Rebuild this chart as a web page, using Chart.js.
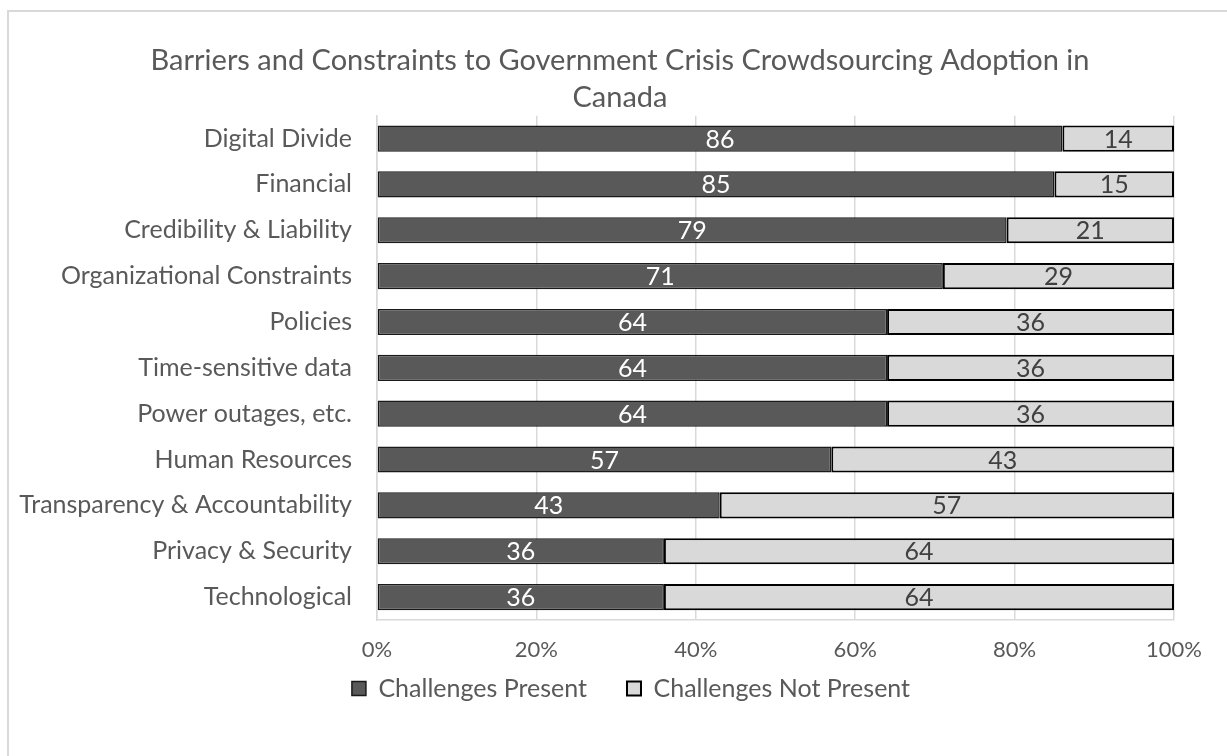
<!DOCTYPE html>
<html>
<head>
<meta charset="utf-8">
<script src="https://cdn.jsdelivr.net/npm/chart.js@4"></script>
<style>
  html, body { margin: 0; padding: 0; background: #fff; }
  #wrap { width: 1227px; height: 756px; }
</style>
</head>
<body>
<div id="wrap"><canvas id="barrierChart"></canvas></div>
<script>
const categories = [
    'Digital Divide',
    'Financial',
    'Credibility & Liability',
    'Organizational Constraints',
    'Policies',
    'Time-sensitive data',
    'Power outages, etc.',
    'Human Resources',
    'Transparency & Accountability',
    'Privacy & Security',
    'Technological'
];
const presentValues = [86, 85, 79, 71, 64, 64, 64, 57, 43, 36, 36];
const notPresentValues = [14, 15, 21, 29, 36, 36, 36, 43, 57, 64, 64];
const xTicks = [0, 20, 40, 60, 80, 100];

const textColor = '#595959';
const fontName = 'Lato, "Noto Sans", sans-serif';

// light grey frame round the chart, like the excel chart area
const framePlugin = {
    id: 'frame',
    beforeDraw(chart) {
        const ctx = chart.ctx;
        ctx.save();
        ctx.strokeStyle = '#d9d9d9';
        ctx.lineWidth = 2;
        ctx.beginPath();
        ctx.moveTo(8, chart.height + 5);
        ctx.lineTo(8, 11);
        ctx.lineTo(chart.width + 5, 11);
        ctx.stroke();
        ctx.restore();
    }
};

// excel centres title + legend on the whole chart box, chart.js on the padded box
// so nudge them a bit after layout
const nudge = {
    id: 'nudge',
    afterLayout(chart) {
        chart.titleBlock.left += 28;
        chart.titleBlock.right += 28;
        chart.legend.left += 39;
        chart.legend.right += 39;
        chart.legend.top -= 34;
    }
};

// value labels in the middle of each bar piece
const valueLabels = {
    id: 'valueLabels',
    afterDatasetsDraw(chart) {
        const ctx = chart.ctx;
        ctx.save();
        ctx.font = '25px ' + fontName;
        ctx.textAlign = 'center';
        ctx.textBaseline = 'middle';
        chart.data.datasets.forEach((ds, i) => {
            const meta = chart.getDatasetMeta(i);
            ctx.fillStyle = i === 0 ? '#ffffff' : '#404040';
            meta.data.forEach((bar, j) => {
                const x = (bar.x + bar.base) / 2;
                ctx.fillText(ds.data[j], x, bar.y + 1);
            });
        });
        ctx.restore();
    }
};

const ctx = document.getElementById('barrierChart').getContext('2d');

const barrierChart = new Chart(ctx, {
    type: 'bar',
    data: {
        labels: categories,
        datasets: [
            {
                label: 'Challenges Present',
                data: presentValues,
                backgroundColor: '#595959',
                borderColor: '#1a1a1a',
                borderWidth: 1.5,
                borderSkipped: false,
                barPercentage: 0.57,
                categoryPercentage: 1
            },
            {
                label: 'Challenges Not Present',
                data: notPresentValues,
                backgroundColor: '#d9d9d9',
                borderColor: '#000000',
                borderWidth: 2,
                borderSkipped: false,
                barPercentage: 0.57,
                categoryPercentage: 1
            }
        ]
    },
    options: {
        indexAxis: 'y',
        responsive: true,
        maintainAspectRatio: false,
        animation: false,
        layout: {
            padding: { top: 42, right: 53, bottom: 26, left: 10 }
        },
        scales: {
            x: {
                stacked: true,
                min: 0,
                max: 100,
                afterBuildTicks(axis) {
                    axis.ticks = xTicks.map(v => ({ value: v }));
                },
                afterFit(axis) {
                    axis.height = 50;
                },
                grid: { color: '#d9d9d9', lineWidth: 1.5, drawTicks: false },
                border: { color: '#d9d9d9', width: 1.5 },
                ticks: {
                    color: textColor,
                    font: { family: fontName, size: 22 },
                    padding: 17,
                    callback: v => v + '%'
                }
            },
            y: {
                stacked: true,
                afterFit(axis) {
                    axis.width = 367;
                },
                grid: { display: false },
                border: { color: '#d9d9d9', width: 1.5 },
                ticks: {
                    color: textColor,
                    font: { family: fontName, size: 25 },
                    padding: 17
                }
            }
        },
        plugins: {
            title: {
                display: true,
                text: ['Barriers and Constraints to Government Crisis Crowdsourcing Adoption in', 'Canada'],
                color: textColor,
                font: { family: fontName, size: 29, weight: 'normal', lineHeight: 1.27 },
                padding: { top: 0, bottom: 0 }
            },
            legend: {
                position: 'bottom',
                maxHeight: 60,
                labels: {
                    color: textColor,
                    font: { family: fontName, size: 25 },
                    boxWidth: 14,
                    boxHeight: 14,
                    padding: 40
                }
            },
            tooltip: { enabled: false }
        }
    },
    plugins: [framePlugin, nudge, valueLabels]
});
</script>
</body>
</html>
